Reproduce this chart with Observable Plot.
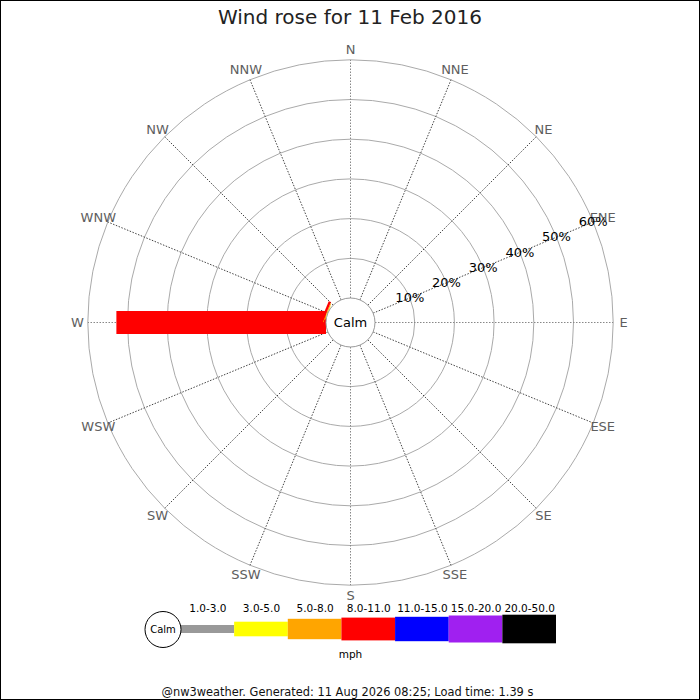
<!DOCTYPE html>
<html>
<head>
<meta charset="utf-8">
<script src="https://cdn.jsdelivr.net/npm/d3@7"></script>
<script src="https://cdn.jsdelivr.net/npm/@observablehq/plot@0.6"></script>
<style>
  body { margin: 0; background: #fff; font-family: "DejaVu Sans", sans-serif; }
  #page { position: relative; width: 700px; height: 700px; overflow: hidden; background: #fff; }
  #frame { position: absolute; left: 0; top: 0; width: 700px; height: 700px; box-sizing: border-box; border: 1px solid #000; pointer-events: none; }
  #title { position: absolute; left: 0; top: 7px; width: 700px; text-align: center; font-size: 20px; line-height: 20px; color: #222; }
  #chart { position: absolute; left: 0; top: 40px; }
  #legend { position: absolute; left: 0; top: 595px; }
  #footer { position: absolute; left: 0; top: 686px; width: 695px; text-align: center; font-size: 11.4px; line-height: 12px; color: #111; }
</style>
</head>
<body>
<div id="page">
  <div id="title">Wind rose for 11 Feb 2016</div>
  <div id="chart"></div>
  <div id="legend"></div>
  <div id="footer">@nw3weather. Generated: 11 Aug 2026 08:25; Load time: 1.39 s</div>
  <div id="frame"></div>
</div>
<script>
// ---------- data ----------
const directions = ["N","NNE","NE","ENE","E","ESE","SE","SSE","S","SSW","SW","WSW","W","WNW","NW","NNW"];
const speedBands = ["1.0-3.0","3.0-5.0","5.0-8.0","8.0-11.0","11.0-15.0","15.0-20.0","20.0-50.0"];
const bandColours = ["#999999","#ffff00","#ffa500","#ff0000","#0000ff","#a020f0","#000000"];
const ringPercents = [10, 20, 30, 40, 50, 60];
// frequency (%) per speed band, for the directions that have any wind
const pctW   = [0, 0, 0, 52.8, 0, 0, 0];
const pctWNW = [0, 0.15, 0.2, 0.6, 0, 0, 0];
const calmLabel = "Calm";
const unitLabel = "mph";

// ---------- styling constants ----------
const bandHalfWidth = [4, 7.3, 10.2, 11.4, 12.2, 13.5, 14.3];
const CALM_R = 24.5, OUTER_R = 262.7, LABEL_R = 273;
const W = 700, H = 560, CY = 282;

const dirPct = new Map([["W", pctW], ["WNW", pctWNW]]);
const rScale = d3.scaleLinear().domain([0, 60]).range([CALM_R, OUTER_R]);
const angle = i => i * Math.PI / 8;
const polar = (i, r) => ({x: r * Math.sin(angle(i)), y: r * Math.cos(angle(i))});

// bar polygons
const barPts = [];
directions.forEach((d, i) => {
  const vals = dirPct.get(d);
  if (!vals) return;
  let cum = 0;
  vals.forEach((v, b) => {
    if (v <= 0) return;
    const r0 = rScale(cum), r1 = rScale(cum + v);
    cum += v;
    const hw = bandHalfWidth[b];
    const s = Math.sin(angle(i)), c = Math.cos(angle(i));
    [[r0, -hw], [r1, -hw], [r1, hw], [r0, hw]].forEach(([a, p]) => {
      barPts.push({seg: d + b, band: b, x: a * s + p * c, y: a * c - p * s});
    });
  });
});

const enePos = directions.indexOf("ENE");

const chart = Plot.plot({
  width: W, height: H,
  margin: 0,
  x: {domain: [-350, 350], axis: null},
  y: {domain: [-(H - CY), CY], axis: null},
  r: {type: "identity"},
  color: {type: "identity"},
  style: {fontFamily: "DejaVu Sans", fontSize: "13px", background: "transparent", overflow: "visible"},
  marks: [
    Plot.dot(ringPercents, {x: () => 0, y: () => 0, r: p => rScale(p), stroke: "#aaaaaa", fill: "none", strokeWidth: 1}),
    Plot.link(directions, {
      x1: (d, i) => polar(i, CALM_R).x, y1: (d, i) => polar(i, CALM_R).y,
      x2: (d, i) => polar(i, OUTER_R).x, y2: (d, i) => polar(i, OUTER_R).y,
      stroke: (d, i) => i % 4 === 0 ? "#888888" : "#444444",
      strokeDasharray: "1.5,1.5", strokeWidth: 1
    }),
    Plot.line(barPts, {x: "x", y: "y", z: "seg", fill: d => bandColours[d.band], stroke: "none", curve: "linear-closed"}),
    Plot.dot([calmLabel], {x: () => 0, y: () => 0, r: () => CALM_R, fill: "#fff", stroke: "#999999", strokeWidth: 1}),
    Plot.text([calmLabel], {x: () => 0, y: () => 0, text: d => d, fill: "#000", fontSize: 13, textAnchor: "middle", lineAnchor: "middle"}),
    Plot.text(directions, {x: (d, i) => polar(i, LABEL_R).x, y: (d, i) => polar(i, LABEL_R).y, text: d => d, fill: "#5e5e5e", fontSize: 13, textAnchor: "middle", lineAnchor: "middle"}),
    Plot.text(ringPercents, {x: p => polar(enePos, rScale(p)).x, y: p => polar(enePos, rScale(p)).y, text: p => p + "%", fill: "#000", fontSize: 13, textAnchor: "middle", lineAnchor: "middle"})
  ]
});
document.getElementById("chart").appendChild(chart);

// ---------- legend ----------
const LEG_H = 70, LEG_CY = 34;
const legend = Plot.plot({
  width: W, height: LEG_H,
  margin: 0,
  x: {domain: [0, speedBands.length], range: [180.5, 556], axis: null},
  y: {domain: [LEG_CY, -(LEG_H - LEG_CY)], range: [0, LEG_H], axis: null},
  color: {type: "identity"},
  r: {type: "identity"},
  style: {fontFamily: "DejaVu Sans", fontSize: "10.5px", background: "transparent", overflow: "visible"},
  marks: [
    Plot.rect(speedBands, {x1: (d, i) => i, x2: (d, i) => i + 1, y1: (d, i) => -bandHalfWidth[i], y2: (d, i) => bandHalfWidth[i], fill: (d, i) => bandColours[i]}),
    Plot.text(speedBands, {x: (d, i) => i + 0.5, y: () => 21.3, text: d => d, fill: "#000", fontSize: 10.5, lineAnchor: "middle"}),
    Plot.dot([calmLabel], {x: () => 0, y: () => 0, dx: -18, r: () => 18, fill: "#fff", stroke: "#000", strokeWidth: 1}),
    Plot.text([calmLabel], {x: () => 0, y: () => 0, dx: -18, text: d => d, fill: "#000", fontSize: 10, lineAnchor: "middle"}),
    Plot.text([unitLabel], {frameAnchor: "bottom", text: d => d, dy: -11, fill: "#000", fontSize: 10.5, lineAnchor: "middle"})
  ]
});
document.getElementById("legend").appendChild(legend);
</script>
</body>
</html>
